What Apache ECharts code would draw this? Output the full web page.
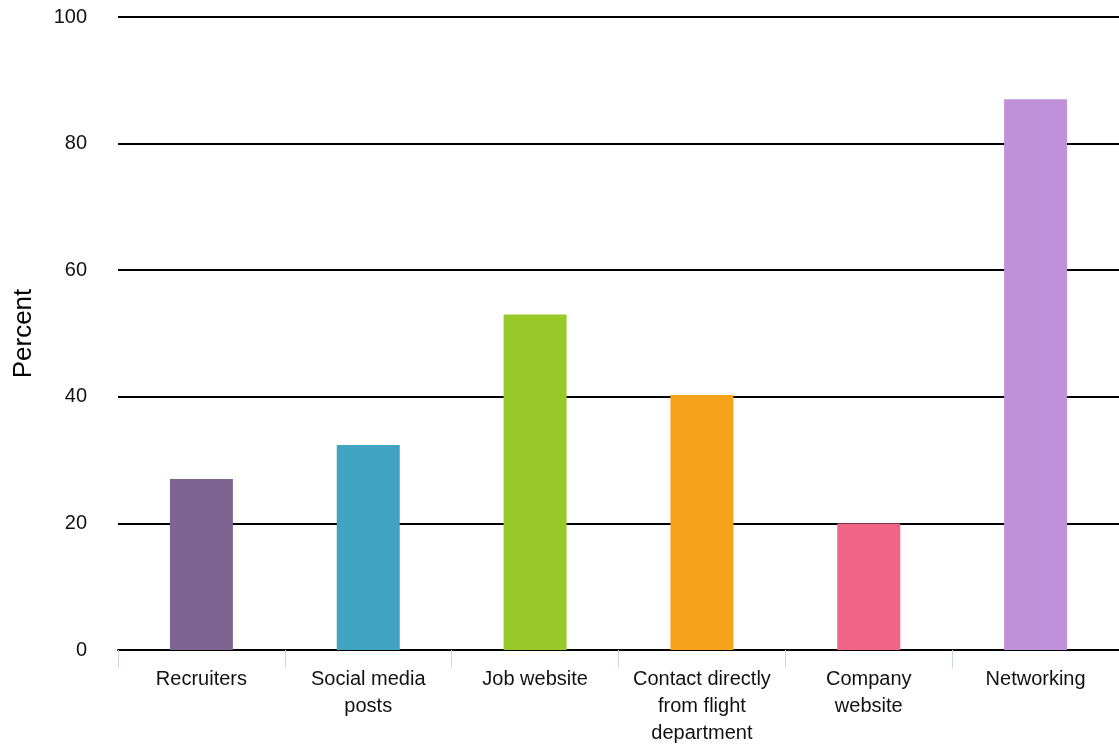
<!DOCTYPE html>
<html>
<head>
<meta charset="utf-8">
<script src="https://cdn.jsdelivr.net/npm/echarts@6/dist/echarts.min.js"></script>
<style>
  html, body { margin: 0; padding: 0; background: #fff; }
  #chart { width: 1119px; height: 748px; }
</style>
</head>
<body>
<div id="chart"></div>
<script>
// Job search channels, share of respondents (percent)
const categories = [
  'Recruiters',
  'Social media\nposts',
  'Job website',
  'Contact directly\nfrom flight\ndepartment',
  'Company\nwebsite',
  'Networking'
];
const values = [27, 32.4, 53, 40.3, 20, 87];
const barColors = ['#7f6391', '#41a3c2', '#97c928', '#f5a31a', '#f06487', '#bf91da'];
const yTicks = { min: 0, max: 100, interval: 20 };
const yTitle = 'Percent';

const FONT = '"Liberation Sans", Helvetica, Arial, sans-serif';

const chart = echarts.init(document.getElementById('chart'), null, { renderer: 'canvas' });
chart.setOption({
  animation: false,
  backgroundColor: '#ffffff',
  // plot area runs slightly past the right edge of the canvas
  grid: { left: 118, width: 1006, top: 17, bottom: 98, containLabel: false },
  xAxis: {
    type: 'category',
    data: categories,
    axisLine: { show: true, lineStyle: { color: '#000', width: 2 } },
    axisTick: { show: true, length: 18, lineStyle: { color: '#ccd6eb', width: 1 } },
    axisLabel: {
      interval: 0,
      margin: 16,
      color: '#111',
      fontFamily: FONT,
      fontSize: 20,
      lineHeight: 27,
      align: 'center'
    }
  },
  yAxis: {
    type: 'value',
    min: yTicks.min,
    max: yTicks.max,
    interval: yTicks.interval,
    name: yTitle,
    nameLocation: 'middle',
    nameGap: 81,
    nameRotate: 90,
    nameTextStyle: { color: '#000', fontFamily: FONT, fontSize: 26 },
    axisLine: { show: false },
    axisTick: { show: false },
    axisLabel: {
      margin: 31,
      color: '#111',
      fontFamily: FONT,
      fontSize: 20
    },
    splitLine: { show: true, lineStyle: { color: '#000', width: 2 } }
  },
  series: [{
    type: 'bar',
    data: values.map((v, i) => ({ value: v, itemStyle: { color: barColors[i] } })),
    barWidth: 63
  }]
});
</script>
</body>
</html>
